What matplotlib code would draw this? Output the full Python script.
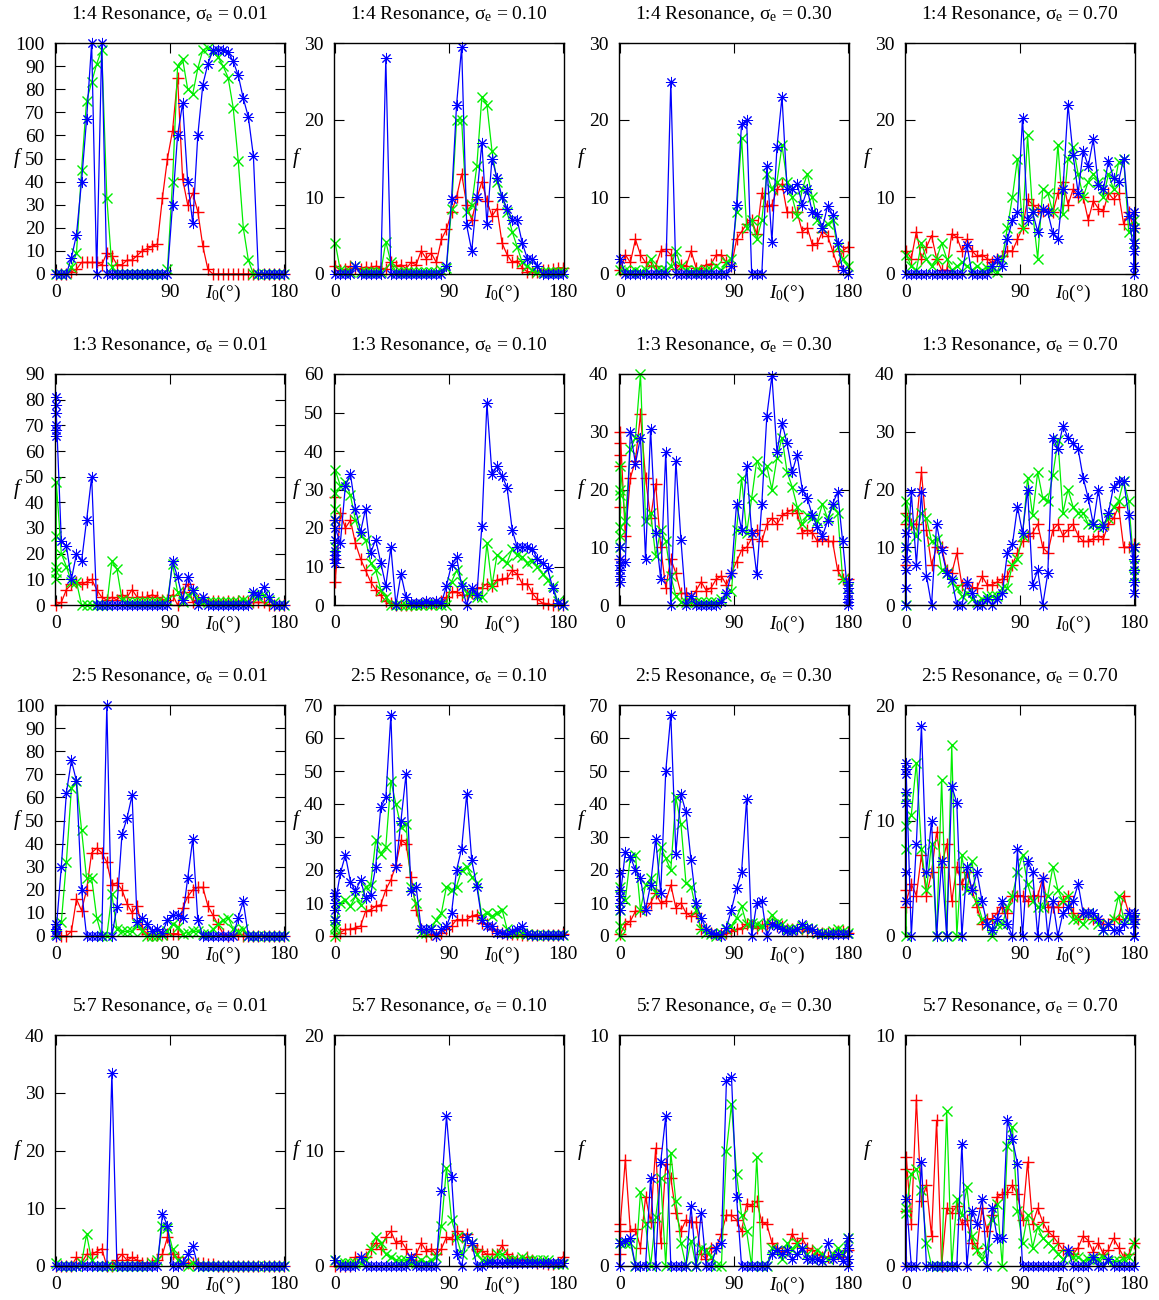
import numpy as np
import matplotlib
matplotlib.use("Agg")
import matplotlib.pyplot as plt

plt.rcParams['font.family'] = ['Liberation Serif', 'DejaVu Serif']
plt.rcParams['mathtext.fontset'] = 'custom'
plt.rcParams['mathtext.rm'] = 'Liberation Serif'
plt.rcParams['mathtext.it'] = 'Liberation Serif:italic'

# initial inclination grid (deg)
inc = np.arange(0, 181, 4)

resonances = ['1:4', '1:3', '2:5', '5:7']
sigmas = ['0.01', '0.10', '0.30', '0.70']
ymax = [100, 30, 30, 30,
        90, 60, 40, 40,
        100, 70, 70, 20,
        40, 20, 10, 10]

# ---- 1:4 resonance ----
p1_red = [0, 0, 0, 1, 2, 5, 5, 5, 5, 4, 9, 8, 4, 4, 6, 6, 8, 10, 11, 12, 13, 33, 50,
          62, 85, 41, 30, 35, 27, 12, 2] + [0] * 15
p1_green = [0, 0, 0, 3, 9, 45, 75, 83, 91, 97, 33, 3, 0, 0, 0, 0, 0, 0, 0, 0, 0, 0, 2,
            40, 90, 93, 80, 78, 89, 97, 98, 96, 94, 90, 85, 72, 49, 20, 6, 0, 0, 0, 0, 0, 0, 0]
p1_blue = [0, 0, 0, 7, 17, 40, 67, 100, 0, 100, 0] + [0] * 12 + \
          [30, 60, 74, 40, 22, 60, 82, 91, 97, 97, 97, 96, 92, 86, 76, 68, 51, 0, 0, 0, 0, 0, 0]

p2_red = [1, 0.5, 0.6, 1, 0.8, 0.7, 0.9, 0.8, 1, 0.8, 0.6, 1.5, 1, 1.2, 0.7, 1.5, 1.2, 3, 2, 2.7, 1.5, 4.5, 5.8,
          8, 10, 13, 9, 7, 9.8, 12, 9.5, 7.5, 8.5, 4, 2.5, 1.5, 1.7, 0.8, 0.3, 0.3, 0.3, 0.5, 0.5, 0.6, 0.8, 0.8]
p2_green = [4, 0.5, 0.3, 0.3, 1, 0.3, 0.2, 0.2, 0.2, 0.2, 4.2, 1.5, 0.3, 0.2, 0.2, 0.2, 0.2, 0.2, 0.2, 0.3, 0.3, 0.5, 0.8,
            8.5, 20, 20, 8, 9, 14, 23, 22, 16, 12, 10, 8, 5.5, 3.5, 1.5, 1, 0.5, 0.3, 0.2, 0.2, 0.2, 0.2, 0.2]
p2_blue = [0, 0, 0, 0, 1, 0, 0, 0, 0, 0, 28, 0] + [0] * 10 + [1,
           9.7, 22, 29.5, 6.3, 3, 10, 17, 6.5, 15, 12.5, 10, 8.5, 7, 7, 4, 2, 2, 1, 0, 0, 0, 0, 0]

p3_red = [0.5, 2.5, 1.5, 4.5, 2.5, 1.5, 1, 1, 3, 3.2, 2.5, 0.7, 1.2, 1, 3, 0.8, 0.5, 1.2, 1.3, 2.5, 2.5, 1.5, 1,
          4.5, 5.5, 6.5, 7, 5.2, 10.5, 8.8, 9, 11, 11.7, 8, 8, 8, 5.5, 6, 3.8, 4, 5.5, 5, 3, 1, 3, 3.5]
p3_green = [0.5, 0.5, 0.3, 0.5, 0.3, 0.5, 2, 0.5, 0.5, 0.5, 1, 3, 1, 0.5, 0.3, 0.5, 0.3, 0.5, 0.5, 1, 0.5, 1.5, 2,
            8, 17.7, 6, 7, 4.5, 7, 13, 11, 12, 16.7, 12, 10, 7.5, 11, 13, 10, 7, 6, 6.5, 7, 3.5, 2, 1]
p3_blue = [2, 0, 0, 0, 0, 0, 0, 0, 0, 0, 25, 0] + [0] * 10 + [1,
           9, 19.5, 20, 0, 0, 0, 14, 4.2, 16.5, 23, 11, 11, 11.7, 9, 11, 8, 7.8, 6, 8.8, 7.7, 4, 0.5, 0]

p4_red = [3, 2, 5.5, 2, 3.5, 5, 2, 0.5, 0.5, 5.2, 4.8, 3, 4.5, 3, 2.3, 2.5, 2, 1.5, 2, 2.3, 3, 3, 4.5,
          6, 9.7, 9, 8.5, 8.2, 8.5, 8, 10.5, 12, 9, 11, 10, 10, 7, 9.5, 8.5, 8.2, 10.5, 9.7, 10.5, 6.5, 8, 6]
p4_green = [2.5, 1, 0.5, 4, 2, 1, 2, 4, 2, 0.5, 1, 1.5, 1, 0.5, 1, 0.5, 0.8, 0.5, 0.3, 2, 6, 10, 15,
            6, 18, 8, 2, 11, 10.5, 8, 16.8, 7.8, 15, 16.5, 13, 10, 12, 13, 12, 10, 13, 11, 14.5, 15, 5.5, 6]
p4_blue = [0] * 12 + [3.8, 0, 0, 0, 0, 1, 2, 1, 4.5, 7, 8] + \
          [20.3, 7, 8, 5.5, 8.5, 8, 5.3, 4.5, 11, 22, 15.5, 10.5, 16, 14, 17.5, 11.5, 11, 14.7, 12.5, 12, 15, 7.5, 3]
p4_blue_180 = [8, 1, 6, 0, 4]
p4_green_180 = [4, 7]

# ---- 1:3 resonance ----
p5_red = [0, 1, 6, 8, 9, 8, 9, 10, 6, 3, 2, 3, 2, 4, 3, 6, 3, 3, 3, 4, 3, 2, 2,
          4, 0, 5, 8, 1, 2, 2, 1, 1.5, 1.5, 1, 1.5, 1, 1.5, 1.5, 1, 1, 1, 1, 0, 0, 0, 0]
p5_green = [48, 20, 15, 9, 9, 0, 0, 0, 0, 0, 0, 17, 14, 2, 1, 1, 1, 1, 1, 1, 1, 1, 2,
            16, 5, 1, 4, 5, 2, 1, 1, 1, 1, 1, 1, 1, 1, 2, 1, 4, 3, 4, 2, 1, 0, 0]
p5_blue = [75, 25, 23, 10, 20, 17, 33, 50, 0] + [0] * 14 + \
          [17, 11, 2, 11, 6, 0, 3, 0, 0, 0, 0, 0, 0, 0, 0, 0, 5, 4, 7, 3, 0, 0, 0]
p5_green_0 = [13, 27, 10, 15]
p5_blue_0 = [66, 81, 68, 78, 70]

p6_red = [6, 24, 20, 22, 16, 12, 9, 6, 4, 2.5, 1, 0.5, 0, 0, 0, 0, 0.2, 0.2, 0.5, 0.3, 0.5, 1, 2,
          3.5, 3.5, 2.5, 2.5, 3, 4.5, 4.5, 5.5, 5, 6.5, 6.8, 7, 9, 8, 5.5, 5.5, 3, 1.5, 0.5, 0.3, 0, 0, 0]
p6_green = [35, 31, 32, 28.5, 22, 18, 17, 11, 9, 4, 2, 0, 0, 0, 0, 0, 0, 0, 0.3, 0, 0.3, 0, 0,
            6, 9, 6, 3, 3, 2, 2, 16, 5, 13, 12, 11, 14.5, 13, 12.5, 11, 11.5, 10, 8, 6.5, 5, 1, 0]
p6_blue = [20, 16, 31, 34, 25, 19, 25, 13.5, 17, 11, 5, 15, 0, 8, 2, 0.5, 0.5, 0.5, 1, 0.5, 1, 0.5, 5,
           10.5, 12.5, 5, 0, 4.5, 2.5, 20.5, 52.5, 34, 36, 33.5, 30.5, 19.5, 15, 15, 15, 14.5, 12, 11, 9.5, 4.5, 0.5, 0]
p6_red_0 = [28, 12, 22]
p6_green_0 = [22, 29, 25, 15]
p6_blue_0 = [11, 22, 13, 17, 12, 14]

p7_red = [30, 12, 22, 25, 33, 22, 15, 21, 10, 3, 8, 5.5, 2, 2, 1, 2.5, 4, 2.5, 3, 4.5, 5, 3.5, 5.5,
          7.5, 9.5, 10, 11.5, 13, 11, 14, 15, 14, 15.5, 16, 16.5, 16, 12.5, 13, 12.5, 11, 11.5, 11, 11, 6, 4.5, 4.5]
p7_green = [24, 14.5, 27, 29, 40, 14.5, 16, 8.5, 13, 11, 5, 1.5, 0.5, 0.5, 0.5, 0.5, 0.5, 0.5, 0.5, 0.5, 1, 1.5, 2.5,
            13, 22, 12.5, 18.5, 25, 23, 24, 20, 25.5, 29, 23, 20.5, 17, 14, 15.5, 15, 14.5, 17.5, 15, 17, 16, 4.5, 3]
p7_blue = [7, 7.5, 30, 24.5, 29, 8, 30.5, 12.5, 4.5, 26.5, 0, 25, 11.3, 0, 1.5, 0, 0, 0, 0, 0, 0.5, 2, 5.5,
           17.5, 13, 24, 12.5, 5.3, 17.5, 32.8, 39.7, 26.5, 31.5, 28, 23, 26, 20, 18.5, 15.5, 13.5, 12, 14.5, 17.5, 19.5, 11, 2]
p7_red_0 = [8, 17, 26, 28, 24]
p7_green_0 = [10, 19, 12, 20, 13.5]
p7_blue_0 = [4, 10, 5, 8, 6]
p7_blue_180 = [0, 3, 1, 4, 0.5]

p8_red = [16, 14, 14, 23, 13, 7, 10, 10, 6, 5.5, 9, 3.5, 4, 3, 3, 5, 3.5, 3.5, 4, 4.5, 5, 7, 9,
          11, 12, 12.5, 14, 10, 9, 13, 14, 12, 13, 14, 12, 11, 11, 11.5, 12, 11.5, 14, 15, 17, 10, 10, 10.5]
p8_green = [18, 14, 12, 16, 15, 11, 11.5, 6, 5.5, 4, 3, 1.5, 2, 1, 0.5, 1, 1.5, 1.5, 1.5, 3, 3, 7, 8,
            12, 22, 15.5, 23, 18.5, 18, 22.5, 28.5, 16, 20, 17, 16, 16, 14, 14, 13.5, 14, 15, 17, 18, 21.5, 18, 7]
p8_blue = [6, 19.5, 7, 19.5, 5, 0, 14, 9.5, 5.5, 4.5, 0, 0, 4, 2, 0, 0, 1, 0, 1, 2, 9, 10.5, 17,
           12.5, 20, 3.5, 6, 0, 5.5, 29, 27, 31, 29, 28, 27, 22, 18.5, 14, 20, 13.5, 16, 20.5, 21.5, 21.5, 15.5, 6]
p8_red_0 = [7, 14]
p8_green_0 = [0, 15, 10]
p8_green_180 = [10, 5]
p8_blue_0 = [0, 12.5, 3, 10, 8]
p8_blue_180 = [2, 10, 4, 8]

# ---- 2:5 resonance ----
p9_red = [0, 0, 0, 2, 16, 11, 20, 36, 38, 36, 32, 22, 23, 20, 14, 10, 13, 3, 1, 0.5, 0.5, 1, 1,
          1, 1, 12, 17, 20, 21, 21, 13, 9, 5, 1, 0, 0.5, 1, 0, 0, 0, 0, 0, 0, 0, 0, 0]
p9_green = [1, 6, 32, 64, 67, 46, 25, 25, 8, 0, 0, 18, 3, 2, 2, 2, 5, 2, 0, 0, 0, 0.5, 2,
            5, 4, 1, 1.5, 2, 2, 1, 1, 3, 5, 7, 8, 3, 2, 3, 0, 0, 0, 0, 0, 0, 0, 0]
p9_blue = [3, 30, 62, 76, 67, 20, 0, 0, 0, 0, 100, 0, 12.5, 44, 51, 61, 6, 8, 5, 2, 3, 1.5, 7,
           9, 9, 8, 25, 42, 7, 0, 0, 0, 0, 0, 0, 0, 8, 15, 0, 0, 0, 0, 0, 0, 0, 0]
p9_blue_0 = [0, 5, 2]

p10_red = [0, 1, 2, 2, 2.5, 3, 7.5, 8, 9, 9.5, 14, 17, 21.5, 29, 28, 18, 8, 2, 0, 0.5, 0.3, 1, 2,
           3, 5, 5, 5, 6, 6.5, 4, 3.5, 2, 1.5, 0.8, 0.5, 0.5, 0.5, 0.3, 0.2, 0.2, 0.2, 0.2, 0.2, 0.2, 0.2, 0.5]
p10_green = [3, 10, 11, 9, 12, 9.5, 15, 15.5, 29, 25, 27, 47, 40, 33, 34, 15, 10, 1, 1, 2, 5, 7, 15,
             14, 15, 20, 21, 18, 16, 6, 7, 6, 7, 8, 2, 1, 1, 1, 0.5, 0.3, 0.3, 0.3, 0.3, 0.3, 0.3, 0.3]
p10_blue = [10, 19, 24.5, 16.5, 13.5, 17, 11.5, 12.5, 21, 39, 42, 67, 21, 35, 49, 13.5, 15, 2, 2, 2, 0, 2, 3,
            7, 20, 26.5, 43, 23, 15, 5, 3, 3, 1, 1, 0.5, 1.5, 2, 3, 0.5, 0.3, 0.3, 0.3, 0.3, 0.3, 0.3, 0.3]
p10_green_0 = [0, 5, 2]
p10_blue_0 = [5, 13, 8, 12]

p11_red = [0.5, 3.5, 4.5, 7.5, 7.5, 8, 10, 13, 10, 10.5, 15.5, 8.5, 10, 7, 6, 7, 2, 2, 1, 0.5, 0.5, 1, 1.5,
           2, 2.5, 3.5, 3, 2.5, 3, 3.5, 4, 3, 3, 2, 2, 2, 2, 1.5, 1.5, 1, 1, 1, 1, 1.5, 1.5, 1]
p11_green = [15, 11, 24, 24.5, 8, 15.5, 17.5, 13, 27, 23.5, 20, 42, 34, 16, 15, 8, 2, 1, 0.5, 0, 1, 2, 3,
             5.5, 9, 3.5, 4, 3.5, 3, 4, 6.5, 4, 3.5, 2, 2, 2, 3, 2.5, 2, 1, 1, 1, 1.5, 2, 1.5, 1]
p11_blue = [12, 25.5, 24, 20, 17.5, 8, 15.5, 29.5, 13, 50, 67, 25, 43, 37.5, 23, 10, 5.5, 2, 1, 0.5, 0, 2.5, 8,
            14.5, 19.5, 41.5, 0, 10, 10.5, 0, 3.5, 3, 2, 1.5, 1.5, 2, 3.5, 2.5, 2, 1, 0.5, 0.5, 0.5, 0.5, 0.5, 0.5]
p11_green_0 = [0, 8, 3]
p11_blue_0 = [8, 19, 10, 14]

p12_red = [3, 4.5, 3.5, 7, 3.5, 5.5, 9, 6, 8, 3, 6, 4.5, 5.5, 4, 2.5, 1, 1.5, 1.5, 2, 2.5, 2, 3.5, 3.5,
           3.5, 3, 3.5, 3.5, 5, 2.5, 2.5, 2.5, 3, 3.5, 2, 1.5, 2, 2, 1.5, 1.5, 1, 1, 1.5, 1.5, 3.5, 2, 1.5]
p12_green = [9.5, 10.5, 15, 7.5, 4, 8, 0, 13.5, 0, 16.5, 0, 7, 4, 6.5, 3, 1.5, 1, 0, 1, 1, 2.5, 3.5, 5.5,
             7, 4.5, 3, 2.5, 2.5, 3.5, 6, 4, 3, 3.5, 1.5, 1.5, 1, 2, 1.5, 1, 0.5, 1, 1.5, 3.5, 1.5, 1.5, 1.5]
p12_blue = [14, 0, 8, 18.2, 5.5, 10, 0, 6.5, 0, 13, 11.5, 0, 6, 4, 5.5, 3, 1, 0.5, 1.5, 3, 1, 0, 7.5,
            0, 6.5, 5.5, 0, 5, 0, 3, 0, 2, 2.5, 3, 4.5, 2, 2, 2, 1.5, 0.5, 1, 0.5, 0.5, 1, 2, 1]
p12_red_0 = [2.5, 4]
p12_green_0 = [0, 12, 7.5]
p12_blue_0 = [3, 15, 11.5, 14.5, 12.5, 5.5]
p12_blue_180 = [0, 2, 1.5, 0]

# ---- 5:7 resonance ----
p13_red = [0, 0, 0, 0, 1.5, 0.5, 2, 2, 2.5, 3, 0, 0, 1, 2, 1, 1.5, 1, 0.5, 0.5, 0.5, 1, 2, 5,
           2, 1.5, 0.5, 0.5, 0.5, 0.5, 0.5, 0.3, 0.3] + [0] * 14
p13_green = [0.5, 0, 0, 0, 0, 0.5, 5.5, 1, 0, 0, 0, 0, 0, 0, 0, 0, 0, 0, 0, 0.5, 1, 7, 6.5,
             3, 1, 0.5, 0, 0.5, 0] + [0] * 17
p13_blue = [0] * 11 + [33.5] + [0] * 9 + [9, 7, 0, 0, 0.5, 2, 3.5, 0] + [0] * 17

p14_red = [0, 0, 0, 0, 0.8, 0.8, 0.8, 1.5, 2, 1.5, 2.5, 3, 2, 2.2, 1.5, 0.5, 1, 2, 1.3, 1.5, 1, 1.5, 2.5,
           2.3, 3, 2.5, 2.8, 1.8, 1.5, 1.3, 1, 1, 1, 1.8, 1, 0.7, 0.5, 0.5, 0.8, 0.5, 0.3, 0.3, 0.2, 0.2, 0.3, 0.8]
p14_green = [0.5, 0.3, 0.3, 0.3, 0.3, 0.3, 0.5, 1.5, 2.5, 2, 1, 0.8, 0.5, 0.5, 0.5, 0.3, 0.3, 0.5, 0.3, 0.5, 0.8, 3.5, 8.5,
             4, 2.5, 1, 2.5, 2, 1, 0.5, 0.5, 0.5, 1, 1, 0.5, 0.5, 0.5, 0.8, 0.5, 0.5, 0.5, 0.5, 0.5, 0.3, 0.2, 0.2]
p14_blue = [0.5, 0, 0, 0, 0, 0.8, 0, 0, 0, 0, 0, 0, 0, 0, 0, 0.8, 0, 0, 0, 0, 0, 6.5, 13,
            7.7, 1, 0, 2.5, 2, 0, 0, 0.3] + [0.3] * 15

p15_red = [1.8, 4.6, 1.5, 1.6, 0.8, 3, 1.9, 5.1, 1, 4.4, 3.8, 2.3, 1.5, 2, 1.9, 1.9, 0.5, 0.3, 0.8, 0.8, 1.4, 2.2, 2.2,
           2, 1.5, 2.7, 2.6, 2.8, 1.9, 1.8, 1, 0.8, 0.6, 0.7, 1.4, 1, 1.2, 0.8, 0.7, 0.5, 0.4, 0.4, 0.4, 0.5, 0.4, 0.7]
p15_green = [1, 1, 1, 0, 3.2, 1.8, 0, 2.1, 3.8, 0, 4.9, 2.8, 1, 0, 1.1, 0, 0.8, 0.7, 0.4, 0, 0, 5, 7,
             4, 2.2, 1.5, 0, 4.7, 0, 0, 0.8, 0.7, 0.3, 1, 0.7, 1, 0.7, 0.5, 0.3, 0.7, 0.5, 0.3, 0.5, 0.8, 0.5, 1.2]
p15_blue = [1, 1.1, 1.2, 0, 0, 0, 3.8, 0, 4.5, 6.5, 0, 0, 0, 0, 2.6, 0, 2.3, 0, 0, 0.8, 1, 8, 8.2,
            3, 0, 0, 0, 0, 0, 0, 0.5, 0.7, 0.5, 0.7, 0.3, 0.5, 0.8, 0.3, 0.3, 0.3, 0.2, 1, 0.3, 0.5, 0.2, 1.2]
p15_red_0 = [0.5, 1.5]
p15_blue_0 = [0]
p15_blue_180 = [0.3, 0.8, 0]

p16_red = [4.7, 1.8, 7.2, 2.8, 3.5, 1.3, 6.3, 0, 2.5, 2.3, 2.6, 1.8, 2, 1, 0.8, 2.5, 1.5, 2.2, 3, 3.1, 3.2, 3.5, 3.1,
           2, 4.5, 1.8, 2.5, 1.9, 1.5, 1.3, 1, 0.7, 0.7, 0.5, 0.8, 1.3, 1.1, 0.6, 1, 0.5, 0.7, 1.2, 0.8, 0.4, 0.5, 1]
p16_green = [2.5, 4, 4.2, 3.3, 1, 0, 0, 0, 6.7, 0, 2.9, 2.2, 3.4, 1.3, 0.7, 0.3, 0.8, 2, 2.7, 0, 5.2, 6, 2.4,
             1, 2.2, 0.8, 1.7, 1.2, 1, 0.8, 0.5, 0.3, 0.5, 0.4, 0.4, 0.2, 0.3, 0.3, 0.3, 0.4, 0.2, 0.2, 0.2, 0.3, 0.4, 1]
p16_blue = [2.9, 0, 0, 4.5, 0, 0, 0, 0, 0, 0, 0, 5.3, 0, 2.4, 1.8, 2.9, 0, 2.5, 1.2, 1.2, 6.3, 5.5, 4.4,
            0, 0, 0, 0, 0, 0, 0, 0, 0, 0.7, 0, 0, 0, 0, 0.4, 0, 0, 0.3, 0, 0, 0, 0, 0]
p16_red_0 = [0, 2.4, 4.2]
p16_green_0 = [2.3]
p16_blue_0 = [0]

g = globals()
colors = {'red': '#ff0000', 'green': '#00ee00', 'blue': '#0000ff'}
markers = {'red': '+', 'green': 'x', 'blue': (8, 2, 0)}
msize = {'red': 8, 'green': 7, 'blue': 8}
mwidth = {'red': 1.0, 'green': 1.0, 'blue': 0.7}

W, H = 1159, 1300
fig = plt.figure(figsize=(W / 100, H / 100), dpi=100)
lefts = [55, 334, 619, 905]
tops = [43, 374, 705, 1035]
aw, ah = 230, 231

for k in range(16):
    row, col = divmod(k, 4)
    ax = fig.add_axes([lefts[col] / W, 1 - (tops[row] + ah) / H, aw / W, ah / H])
    n = k + 1
    for c in ['red', 'green', 'blue']:
        vals = g['p%d_%s' % (n, c)]
        at0 = g.get('p%d_%s_0' % (n, c), [])
        at180 = g.get('p%d_%s_180' % (n, c), [])
        x = np.concatenate([np.zeros(len(at0)), inc, np.full(len(at180), 180.0)])
        y = np.concatenate([np.array(at0, float), np.array(vals, float), np.array(at180, float)])
        ax.plot(x, y, color=colors[c], lw=0.9, marker=markers[c], ms=msize[c],
                mew=mwidth[c], clip_on=False)
    ax.set_xlim(-1, 181)
    ax.set_ylim(0, ymax[k])
    ax.set_xticks([0, 90, 180])
    ax.set_yticks(np.arange(0, ymax[k] + 1, 10))
    ax.tick_params(direction='in', top=True, right=True, length=7, width=0.8,
                   labelsize=14, pad=7.5)
    for s in ax.spines.values():
        s.set_linewidth(1.0)
    ax.set_title('%s Resonance, $\\mathrm{\\sigma_e}$ = %s' % (resonances[row], sigmas[col]),
                 fontsize=14, pad=17)
    ax.text(-0.165, 0.5, 'f', transform=ax.transAxes, fontsize=15, style='italic',
            ha='center', va='center')
    ax.text(0.73, -0.102, '$I_0$(°)', transform=ax.transAxes, fontsize=14,
            ha='center', va='baseline')

fig.savefig('out.png', dpi=100)
